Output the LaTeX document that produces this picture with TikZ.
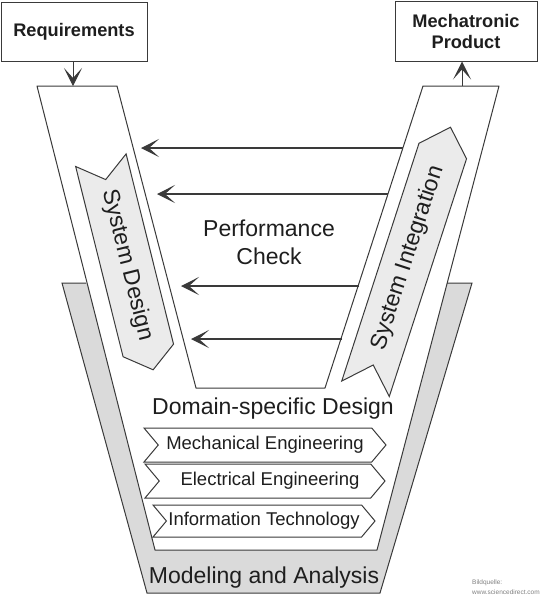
\documentclass[tikz,border=0pt]{standalone}
\usepackage{fontspec}
\setmainfont{Liberation Sans}
\usepackage{tikz}
\usetikzlibrary{positioning,
				arrows.meta,
				shapes.symbols,
				calc}
\definecolor{linegray}{HTML}{3A3A3A}
\definecolor{txtgray}{HTML}{1E1E1E}
\definecolor{bucketgray}{HTML}{DADADA}
\definecolor{chevgray}{HTML}{EBEBEB}

\begin{document}
\begin{tikzpicture}[x=1pt, y=-1pt,
		every node/.style={text=txtgray},
		ln/.style={draw=linegray, line width=1pt},
		tip/.style={-{Stealth[length=18pt,width=18pt,inset=10pt]}},
		bigtxt/.style={font=\fontsize{23}{28}\selectfont},
		boxtxt/.style={ln, font=\fontsize{18.2}{21}\selectfont\bfseries, align=center, inner sep=0pt},
		chev/.style={ln, shape=signal, signal from=west, signal to=east, inner sep=0pt, font=\fontsize{18.5}{22}\selectfont}]
	\useasboundingbox (0,0) rectangle (544,600);
	% bucket and V
	\fill[bucketgray] (62,283) -- (472,283) -- (380,593) -- (147,593) -- cycle;
	\fill[white] (37,86) -- (499,86) -- (377,550) -- (155,550) -- cycle;
	\draw[ln] (86,283) -- (62,283) -- (147,593) -- (380,593) -- (472,283) -- (447,283);
	\draw[ln, line join=round] (37,86) coordinate (vtl) -- (117,86) -- (196,388) -- (325,388) -- (423,86) -- (499,86) coordinate (vtr)
		-- (377,550) -- (155,550) -- cycle;
	\coordinate (reqin) at (73,86);
	\coordinate (prodout) at (462,86);
	% boxes
	\node[boxtxt, minimum width=146, minimum height=59] (req) at (74,31.5) {Requirements};
	\node[boxtxt, minimum width=142, minimum height=60] (prod) at (466,31) {Mechatronic\\Product};
	\draw[ln, tip] (req.south -| reqin) -- (reqin);
	\draw[ln, tip] (prodout) -- (prodout |- prod.south);
	% performance check
	\foreach \y/\xl/\xr [count=\i] in {148/141/403, 194/157/388, 286/181/359, 339/191/342}{
		\coordinate (pc\i r) at (\xr,\y);
		\coordinate (pc\i l) at (\xl,\y);
		\draw[ln, line width=1.2pt, tip] (pc\i r) -- (pc\i l);
	}
	\node[bigtxt, align=center] (pc) at (269,242) {Performance\\Check};
	% system chevrons
	\node[chev, fill=chevgray, rotate=-76, minimum width=216, minimum height=52, signal pointer angle=105, font=\fontsize{23}{28}\selectfont] (sd) at (127,265) {System Design};
	\node[chev, fill=chevgray, rotate=72, minimum width=275, minimum height=50, signal pointer angle=90, font=\fontsize{23}{28}\selectfont] (si) at (408,258) {System Integration};
	% domain-specific design
	\node[bigtxt] (dsd) at (273,409) {Domain-specific Design};
	\node[chev, fill=white, minimum width=242, minimum height=34, signal pointer angle=100] (me) at (265,445) {Mechanical Engineering};
	\node[chev, fill=white, minimum width=240, minimum height=34, signal pointer angle=100] (ee) at (265,481) {\hspace*{10pt}Electrical Engineering};
	\node[chev, fill=white, minimum width=222, minimum height=32, signal pointer angle=100] (it) at (264,521) {Information Technology};
	\node[bigtxt] (ma) at (264,578) {Modeling and Analysis};
	\node[font=\fontsize{6.5}{10}\selectfont, text=gray, align=left, anchor=north west, inner sep=0pt] (src) at (472,580) {Bildquelle:\\www.sciencedirect.com};
\end{tikzpicture}
\end{document}
